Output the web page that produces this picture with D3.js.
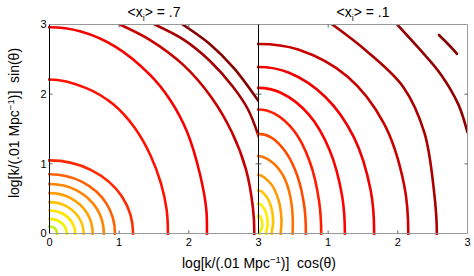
<!DOCTYPE html>
<html>
<head>
<meta charset="utf-8">
<script src="https://cdn.jsdelivr.net/npm/d3@7"></script>
<style>
  body { margin: 0; background: #fff; }
  text { font-family: "Liberation Sans", Arial, sans-serif; fill: #000; }
</style>
</head>
<body>
<div id="chart"></div>
<script>
// panel titles (<x_i> value) and tick values
var panelTitles = [".7", ".1"];
var tickValues = [0, 1, 2, 3];
var rightTickLabels = ["", "1", "2", "3"];

// contour lines, in (log k cos, log k sin) units
var leftContours = [
  [[0.11, 0], [0.095, 0.05], [0.055, 0.087], [0, 0.10]],
  [[0.25, 0], [0.217, 0.105], [0.125, 0.183], [0, 0.21]],
  [[0.37, 0], [0.32, 0.165], [0.185, 0.287], [0, 0.33]],
  [[0.49, 0], [0.425, 0.225], [0.245, 0.39], [0, 0.45]],
  [[0.62, 0], [0.54, 0.29], [0.31, 0.505], [0, 0.58]],
  [[0.78, 0], [0.68, 0.355], [0.39, 0.62], [0, 0.71]],
  [[0.94, 0], [0.82, 0.425], [0.47, 0.74], [0, 0.85]],
  [[1.2, 0], [1.04, 0.53], [0.60, 0.91], [0, 1.05]],
  [[1.70, 0], [1.68, 0.35], [1.60, 0.72], [1.45, 1.12], [1.22, 1.52], [0.92, 1.85], [0.52, 2.09], [0, 2.21]],
  [[2.26, 0], [2.25, 0.35], [2.16, 0.85], [1.97, 1.47], [1.73, 1.92], [1.44, 2.28], [0.95, 2.68], [0.45, 2.90], [0, 2.96]],
  [[2.94, 0], [2.92, 0.37], [2.82, 0.92], [2.62, 1.45], [2.32, 1.96], [1.92, 2.42], [1.44, 2.78], [1.01, 3.0]],
  [[3.0, 1.40], [2.85, 1.78], [2.63, 2.11], [2.30, 2.48], [1.93, 2.78], [1.51, 3.0]],
  [[3.0, 1.90], [2.65, 2.37], [2.30, 2.72], [1.91, 3.0]]
];
var leftColors = ["#c6f01a", "#f2f200", "#ffe600", "#ffc400", "#ffa000", "#ff8400", "#ff6000",
                  "#ff2a00", "#ff1000", "#f80000", "#c80000", "#a50000", "#850000"];

var rightContours = [
  [[0.01, 0], [0.05, 0.08], [0.055, 0.15], [0.035, 0.22], [0, 0.26]],
  [[0.11, 0], [0.13, 0.12], [0.12, 0.25], [0.08, 0.36], [0, 0.43]],
  [[0.19, 0], [0.21, 0.15], [0.19, 0.35], [0.12, 0.52], [0, 0.62]],
  [[0.32, 0], [0.33, 0.2], [0.29, 0.47], [0.18, 0.71], [0, 0.84]],
  [[0.49, 0], [0.49, 0.25], [0.45, 0.56], [0.36, 0.82], [0.20, 1.02], [0, 1.11]],
  [[0.68, 0], [0.66, 0.37], [0.56, 0.82], [0.39, 1.17], [0.18, 1.38], [0, 1.43]],
  [[0.90, 0], [0.87, 0.46], [0.74, 1.02], [0.52, 1.46], [0.23, 1.72], [0, 1.78]],
  [[1.24, 0], [1.20, 0.54], [1.02, 1.20], [0.72, 1.71], [0.32, 2.02], [0, 2.09]],
  [[1.66, 0], [1.61, 0.62], [1.37, 1.38], [0.96, 1.96], [0.43, 2.31], [0, 2.39]],
  [[2.15, 0], [2.09, 0.70], [1.80, 1.58], [1.28, 2.25], [0.57, 2.64], [0, 2.72]],
  [[2.56, 0], [2.52, 0.6], [2.38, 1.45], [2.08, 2.10], [1.55, 2.62], [1.06, 3.0]],
  [[3.0, 1.45], [2.87, 1.85], [2.62, 2.28], [2.30, 2.66], [1.99, 3.0]],
  [[2.85, 2.58], [2.72, 2.72], [2.59, 2.85]]
];
var rightColors = ["#f0f000", "#ffee00", "#ffc400", "#ff9a00", "#ff7400", "#ff4a00", "#ff1e00",
                   "#ff0000", "#ee0000", "#c80000", "#aa0000", "#920000", "#850000"];

var width = 474, height = 276;
var plotTop = 24.5, plotBottom = 233.5;

var svg = d3.select("#chart")
  .append("svg")
    .attr("width", width)
    .attr("height", height);

var y = d3.scaleLinear().domain([0, 3]).range([plotBottom, plotTop]);

// mirror the ends across the axes so the curves meet them square
function extend(pts) {
  var out = pts.slice();
  if (pts[0][1] === 0) {
    out.unshift([pts[1][0], -pts[1][1]]);
    out.unshift([pts[2][0], -pts[2][1]]);
  }
  var n = pts.length;
  if (pts[n - 1][0] === 0) {
    out.push([-pts[n - 2][0], pts[n - 2][1]]);
    out.push([-pts[n - 3][0], pts[n - 3][1]]);
  }
  return out;
}

function drawPanel(i, left, right, contours, colors, title, xLabels, yLabels) {
  var x = d3.scaleLinear().domain([0, 3]).range([left, right]);
  var g = svg.append("g");

  g.append("clipPath").attr("id", "clip" + i)
    .append("rect")
      .attr("x", left - 1.5).attr("y", plotTop)
      .attr("width", right - left + 1.5).attr("height", plotBottom - plotTop + 1.5);

  var line = d3.line()
    .x(function (d) { return x(d[0]); })
    .y(function (d) { return y(d[1]); })
    .curve(d3.curveCatmullRom.alpha(0.5));

  g.append("g")
    .attr("clip-path", "url(#clip" + i + ")")
    .selectAll("path")
    .data(contours)
    .enter()
    .append("path")
      .attr("d", function (d) { return line(extend(d)); })
      .attr("fill", "none")
      .attr("stroke", function (d, j) { return colors[j]; })
      .attr("stroke-width", 2.6)
      .attr("stroke-linecap", "round");

  // box
  g.append("line").attr("x1", left).attr("x2", right).attr("y1", plotTop).attr("y2", plotTop).attr("stroke", "#999");
  g.append("line").attr("x1", left).attr("x2", right).attr("y1", plotBottom).attr("y2", plotBottom).attr("stroke", "#999");
  g.append("line").attr("x1", right).attr("x2", right).attr("y1", plotTop).attr("y2", plotBottom).attr("stroke", "#999");
  g.append("line").attr("x1", left).attr("x2", left).attr("y1", plotTop).attr("y2", plotBottom).attr("stroke", "#000");

  // inward ticks
  var inner = tickValues.slice(1, 3);
  g.selectAll(".xt").data(inner).enter().append("line")
    .attr("x1", function (d) { return x(d); }).attr("x2", function (d) { return x(d); })
    .attr("y1", plotBottom).attr("y2", plotBottom - 3).attr("stroke", "#666");
  g.selectAll(".xtt").data(inner).enter().append("line")
    .attr("x1", function (d) { return x(d); }).attr("x2", function (d) { return x(d); })
    .attr("y1", plotTop).attr("y2", plotTop + 3).attr("stroke", "#666");
  g.selectAll(".yt").data(inner).enter().append("line")
    .attr("x1", left).attr("x2", left + 3)
    .attr("y1", function (d) { return y(d); }).attr("y2", function (d) { return y(d); }).attr("stroke", "#666");
  g.selectAll(".ytr").data(inner).enter().append("line")
    .attr("x1", right).attr("x2", right - 3)
    .attr("y1", function (d) { return y(d); }).attr("y2", function (d) { return y(d); }).attr("stroke", "#666");

  // tick labels
  g.selectAll(".xl").data(tickValues).enter().append("text")
    .attr("x", function (d) { return x(d); })
    .attr("y", 246)
    .attr("text-anchor", "middle")
    .style("font-size", "11px")
    .text(function (d, j) { return xLabels[j]; });
  if (yLabels) {
    g.selectAll(".yl").data(tickValues).enter().append("text")
      .attr("x", left - 3)
      .attr("y", function (d) { return y(d); })
      .attr("dy", "0.36em")
      .attr("text-anchor", "end")
      .style("font-size", "11px")
      .text(function (d) { return d; });
  }

  // title <x_i> = value
  var t = g.append("text")
    .attr("x", (left + right) / 2)
    .attr("y", 17)
    .attr("text-anchor", "middle")
    .style("font-size", "14px");
  t.append("tspan").text("<x");
  t.append("tspan").attr("dy", 4).style("font-size", "9px").text("i");
  t.append("tspan").attr("dy", -4).text("> = " + title);
}

drawPanel(0, 49.5, 258.5, leftContours, leftColors, panelTitles[0], tickValues, true);
drawPanel(1, 258.5, 467.5, rightContours, rightColors, panelTitles[1], rightTickLabels, false);

// axis labels
var xl = svg.append("text")
  .attr("x", 259)
  .attr("y", 268)
  .attr("text-anchor", "middle")
  .style("font-size", "14px");
xl.append("tspan").text("log[k/(.01 Mpc");
xl.append("tspan").attr("dy", -5).style("font-size", "9.5px").text("\u22121");
xl.append("tspan").attr("dy", 5).text(")]\u00a0\u00a0cos(\u03b8)");

var yl = svg.append("text")
  .attr("transform", "translate(19,123) rotate(-90)")
  .attr("text-anchor", "middle")
  .style("font-size", "14px");
yl.append("tspan").text("log[k/(.01 Mpc");
yl.append("tspan").attr("dy", -5).style("font-size", "9.5px").text("\u22121");
yl.append("tspan").attr("dy", 5).text(")]\u00a0\u00a0sin(\u03b8)");
</script>
</body>
</html>
